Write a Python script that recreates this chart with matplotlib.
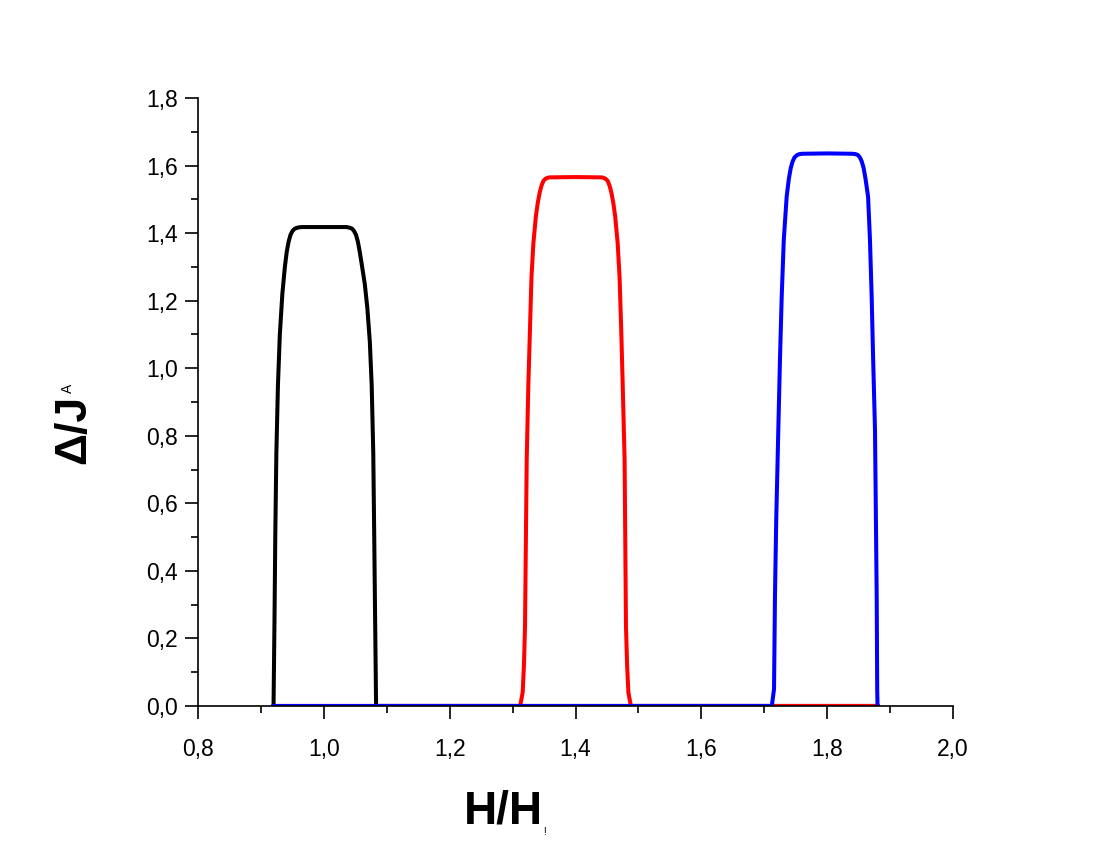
import matplotlib
matplotlib.use('Agg')
import matplotlib.pyplot as plt
from matplotlib.ticker import MultipleLocator, FuncFormatter

plt.rcParams['font.family'] = ['Liberation Sans', 'DejaVu Sans']

# curves (H/H!, gap)
x_black = [0.920, 0.9215, 0.9228, 0.9245, 0.927, 0.930, 0.934, 0.938, 0.941, 0.944, 0.947, 0.950, 0.953, 0.956, 0.960, 0.965,
           1.000, 1.036, 1.041, 1.045, 1.048, 1.051, 1.054, 1.057, 1.060, 1.065, 1.069, 1.073, 1.076, 1.0785, 1.0800, 1.0815, 1.083, 1.880]
y_black = [0.0, 0.25, 0.51, 0.75, 0.95, 1.10, 1.22, 1.30, 1.345, 1.375, 1.395, 1.406, 1.412, 1.415, 1.417, 1.418,
           1.418, 1.418, 1.416, 1.413, 1.406, 1.395, 1.375, 1.345, 1.31, 1.25, 1.18, 1.08, 0.95, 0.75, 0.51, 0.25, 0.0, 0.0]

x_red = [0.920, 1.312, 1.316, 1.318, 1.3197, 1.3224, 1.325, 1.3277, 1.330, 1.333, 1.337, 1.340, 1.343, 1.346, 1.349, 1.353, 1.358,
         1.400, 1.442, 1.447, 1.451, 1.454, 1.457, 1.460, 1.463, 1.467, 1.470, 1.4725, 1.475, 1.478, 1.4802, 1.482, 1.484, 1.488, 1.880]
y_red = [0.0, 0.0, 0.04, 0.12, 0.235, 0.728, 0.95, 1.123, 1.27, 1.37, 1.45, 1.49, 1.52, 1.541, 1.555, 1.562, 1.565,
         1.566, 1.565, 1.562, 1.555, 1.541, 1.52, 1.49, 1.45, 1.37, 1.27, 1.123, 0.95, 0.728, 0.235, 0.12, 0.04, 0.0, 0.0]

x_blue = [0.920, 1.712, 1.7155, 1.717, 1.719, 1.7223, 1.725, 1.7277, 1.731, 1.7356, 1.739, 1.742, 1.745, 1.748, 1.752, 1.756, 1.761,
          1.800, 1.840, 1.845, 1.849, 1.852, 1.855, 1.858, 1.861, 1.865, 1.868, 1.8707, 1.873, 1.876, 1.8787, 1.8795, 1.880]
y_blue = [0.0, 0.0, 0.05, 0.324, 0.55, 0.817, 1.03, 1.212, 1.38, 1.508, 1.56, 1.592, 1.612, 1.624, 1.631, 1.634, 1.635,
          1.636, 1.635, 1.634, 1.631, 1.624, 1.612, 1.592, 1.56, 1.508, 1.38, 1.212, 1.03, 0.817, 0.324, 0.05, 0.0]

fig = plt.figure(figsize=(11.07, 8.48), dpi=100)
ax = fig.add_axes([0.1789, 0.1675, 0.682, 0.7169])

ax.plot(x_black, y_black, color='black', lw=2.9)
ax.plot(x_red, y_red, color='red', lw=2.9)
ax.plot(x_blue, y_blue, color='blue', lw=2.9)

ax.set_xlim(0.8, 2.0)
ax.set_ylim(0.0, 1.8)
ax.xaxis.set_major_locator(MultipleLocator(0.2))
ax.xaxis.set_minor_locator(MultipleLocator(0.1))
ax.yaxis.set_major_locator(MultipleLocator(0.2))
ax.yaxis.set_minor_locator(MultipleLocator(0.1))
comma = FuncFormatter(lambda v, p: ('%.1f' % v).replace('.', ','))
ax.xaxis.set_major_formatter(comma)
ax.yaxis.set_major_formatter(comma)

for s in ['top', 'right']:
    ax.spines[s].set_visible(False)
for s in ['left', 'bottom']:
    ax.spines[s].set_linewidth(1.2)
ax.tick_params(which='major', direction='out', length=9.4, width=1.2, labelsize=16.5)
ax.tick_params(which='minor', direction='out', length=5, width=1.2)
ax.tick_params(axis='x', which='major', pad=14)
ax.tick_params(axis='y', which='major', pad=5)

# axis labels
fig.text(503 / 1107, 1 - 812 / 848, 'H/H', fontsize=33, fontweight='bold', ha='center', va='center')
fig.text(544 / 1107, 1 - 832 / 848, '!', fontsize=7, ha='center', va='center')
fig.text(74 / 1107, 1 - 429 / 848, 'Δ/J', fontsize=32, fontweight='bold', rotation=90, ha='center', va='center')
fig.text(67.5 / 1107, 1 - 388 / 848, 'A', fontsize=10, rotation=90, ha='center', va='center')

fig.savefig('out.png', dpi=100)
